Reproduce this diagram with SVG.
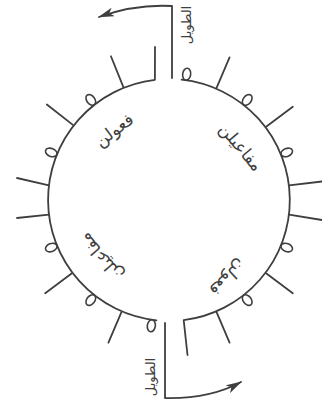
<svg xmlns="http://www.w3.org/2000/svg" width="322" height="403" viewBox="0 0 322 403">
<style>
.ln{fill:none;stroke:#3f3f3f;stroke-width:1.8;stroke-linecap:round;stroke-linejoin:round}
.lp{fill:none;stroke:#3f3f3f;stroke-width:1.6}
.t{font-family:"DejaVu Sans",sans-serif;fill:#3f3f3f;text-anchor:middle;dominant-baseline:central}
</style>
<defs>
<marker id="ah" viewBox="0 0 16 9" refX="15" refY="4.5" markerWidth="16" markerHeight="9" markerUnits="userSpaceOnUse" orient="auto">
<path d="M0,0 L16,4.5 L0,9 L4,4.5 Z" fill="#3f3f3f"/>
</marker>
<ellipse id="loop" cx="169" cy="73" rx="4" ry="6" class="lp"/>
<line id="tick" x1="169" y1="78" x2="169" y2="45" class="ln"/>
</defs>
<rect width="322" height="403" fill="#ffffff"/>
<g id="circle">
<path class="ln" d="M181.6,79.7 A121,121 0 0 1 183.7,320.1 L187.5,355"/>
<path class="ln" d="M156.4,320.3 A121,121 0 0 1 154.9,79.8 L155,47"/>
</g>
<g id="loops">
<use href="#loop" transform="rotate(8,169,200)"/>
<use href="#loop" transform="rotate(38,169,200)"/>
<use href="#loop" transform="rotate(68,169,200)"/>
<use href="#loop" transform="rotate(112,169,200)"/>
<use href="#loop" transform="rotate(142,169,200)"/>
<use href="#loop" transform="rotate(188,169,200)"/>
<use href="#loop" transform="rotate(218,169,200)"/>
<use href="#loop" transform="rotate(248,169,200)"/>
<use href="#loop" transform="rotate(292,169,200)"/>
<use href="#loop" transform="rotate(322,169,200)"/>
</g>
<g id="ticks">
<use href="#tick" transform="rotate(23,169,200)"/>
<use href="#tick" transform="rotate(53,169,200)"/>
<use href="#tick" transform="rotate(127,169,200)"/>
<use href="#tick" transform="rotate(157,169,200)"/>
<use href="#tick" transform="rotate(203,169,200)"/>
<use href="#tick" transform="rotate(233,169,200)"/>
<use href="#tick" transform="rotate(308,169,200)"/>
<use href="#tick" transform="rotate(338,169,200)"/>
</g>
<g id="sides">
<line class="ln" x1="289.1" y1="185.3" x2="322" y2="181.5"/>
<line class="ln" x1="289.1" y1="214.7" x2="322" y2="220"/>
<line class="ln" x1="48.9" y1="185.3" x2="17" y2="178"/>
<line class="ln" x1="48.9" y1="214.7" x2="17" y2="218"/>
</g>
<g id="connectors">
<path class="ln" d="M172,78 V6 Q135,4 99,17" marker-end="url(#ah)"/>
<path class="ln" d="M165,323 V398 Q210,399 241,382" marker-end="url(#ah)"/>
</g>
<g id="label-top"><text class="t" font-size="13" transform="translate(186,25) rotate(-90)">الطويل</text></g>
<g id="label-bottom"><text class="t" font-size="13" transform="translate(150,377) rotate(-90)">الطويل</text></g>
<g id="foot-tl"><text class="t" font-size="17" transform="translate(114,130) rotate(-37)">فعولن</text></g>
<g id="foot-tr"><text class="t" font-size="17" transform="translate(241,147) rotate(50)">مفاعيلن</text></g>
<g id="foot-bl"><text class="t" font-size="17" transform="translate(101,257) rotate(229)">مفاعيلن</text></g>
<g id="foot-br"><text class="t" font-size="17" transform="translate(228,278) rotate(137)">فعولن</text></g>
</svg>
